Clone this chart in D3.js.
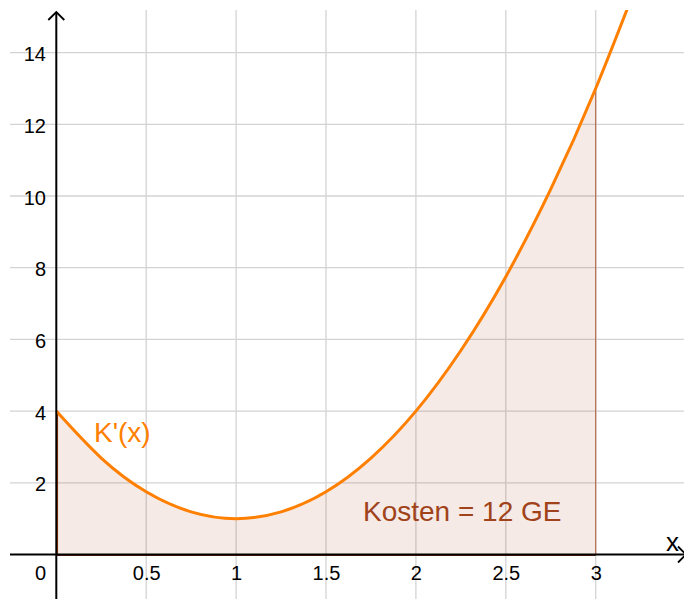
<!DOCTYPE html>
<html><head><meta charset="utf-8">
<script src="https://cdn.jsdelivr.net/npm/d3@7"></script>
<style>
html,body{margin:0;padding:0;background:#fff;}
svg{display:block;font-family:"Liberation Sans",Arial,sans-serif;}
</style></head>
<body><svg id="c" width="684" height="599"></svg>
<script>
// Data
const xs = [0, 0.25, 0.5, 0.75, 1, 1.25, 1.5, 1.75, 2, 2.25, 2.5, 2.75, 3, 3.25];
const ys = [4, 2.69, 1.75, 1.19, 1, 1.19, 1.75, 2.69, 4, 5.69, 7.75, 10.19, 13, 16.19];
const areaEnd = 3;
const xTicks = [0.5, 1, 1.5, 2, 2.5, 3];
const yTicks = [2, 4, 6, 8, 10, 12, 14];
const xGrid = [0.5, 1, 1.5, 2, 2.5, 3, 3.5];
const curveLabel = "K'(x)";
const areaLabel = "Kosten = 12 GE";

const W = 684, H = 599;
const svg = d3.select("#c");
const x = d3.scaleLinear().domain([-56.3/179.8, (W-56.3)/179.8]).range([0, W]);
const y = d3.scaleLinear().domain([554.5/35.85, (554.5-H)/35.85]).range([0, H]);

const pts = xs.map((v,i)=>({x:v, y:ys[i]}));
const areaPts = pts.filter(d=>d.x<=areaEnd);

// grid
const grid = svg.append("g").attr("stroke","#d3d3d3").attr("stroke-width",1.3);
grid.selectAll("line.v").data(xGrid).join("line")
  .attr("x1",d=>x(d)).attr("x2",d=>x(d)).attr("y1",10).attr("y2",H);
grid.selectAll("line.h").data(yTicks).join("line")
  .attr("x1",10).attr("x2",W).attr("y1",d=>y(d)).attr("y2",d=>y(d));

svg.append("clipPath").attr("id","clip").append("rect")
  .attr("x",10).attr("y",10).attr("width",W-10).attr("height",H-10);
const plot = svg.append("g").attr("clip-path","url(#clip)");

// area
const area = d3.area().x(d=>x(d.x)).y0(y(0)).y1(d=>y(d.y)).curve(d3.curveNatural);
plot.append("path").datum(areaPts).attr("d",area)
  .attr("fill","#993300").attr("fill-opacity",0.1);
// area borders
plot.append("line").attr("x1",x(0)+1).attr("x2",x(0)+1).attr("y1",y(0)).attr("y2",y(ys[0]))
  .attr("stroke","#993300").attr("stroke-width",1.5);
plot.append("line").attr("x1",x(areaEnd)).attr("x2",x(areaEnd)).attr("y1",y(0)).attr("y2",y(ys[xs.indexOf(areaEnd)]))
  .attr("stroke","#b36b4f").attr("stroke-width",1.2);

// axes
const ax = svg.append("g").attr("stroke","#000").attr("stroke-width",2).attr("fill","none");
ax.append("line").attr("x1",10).attr("x2",W).attr("y1",y(0)).attr("y2",y(0));
ax.append("line").attr("x1",x(0)).attr("x2",x(0)).attr("y1",12).attr("y2",H);
ax.append("path").attr("d",`M${x(0)-8},20 L${x(0)},12 L${x(0)+8},20`).attr("stroke-width",1.8);
ax.append("path").attr("d",`M${W-6},${y(0)-8} L${W+2},${y(0)} L${W-6},${y(0)+8}`).attr("stroke-width",1.8);
// brown bottom edge of area
plot.append("line").attr("x1",x(0)).attr("x2",x(areaEnd)).attr("y1",y(0)+1).attr("y2",y(0)+1)
  .attr("stroke","#6e2a10").attr("stroke-width",1.2);

// curve
const line = d3.line().x(d=>x(d.x)).y(d=>y(d.y)).curve(d3.curveNatural);
plot.append("path").datum(pts).attr("d",line)
  .attr("fill","none").attr("stroke","#ff7f00").attr("stroke-width",3);

// tick labels via axes
const xa = svg.append("g").attr("transform",`translate(0,${y(0)})`)
  .call(d3.axisBottom(x).tickValues(xTicks).tickSize(0).tickPadding(0).tickFormat(d=>String(d)));
xa.select(".domain").remove();
xa.selectAll("text").attr("y",25.5).attr("dy",0).attr("font-size",20)
  .attr("font-family","Liberation Sans, Arial, sans-serif").attr("fill","#000");
const ya = svg.append("g").attr("transform",`translate(46,0)`)
  .call(d3.axisLeft(y).tickValues(yTicks).tickSize(0).tickPadding(0).tickFormat(d=>String(d)));
ya.select(".domain").remove();
ya.selectAll("text").attr("x",0).attr("dy","0.4em").attr("font-size",20)
  .attr("font-family","Liberation Sans, Arial, sans-serif").attr("fill","#000");
svg.append("text").attr("x",46).attr("y",y(0)+25.5).attr("text-anchor","end")
  .attr("font-size",20).attr("fill","#000").text("0");
svg.append("text").attr("x",666).attr("y",y(0)-4)
  .attr("font-size",26).attr("fill","#000").text("x");

// labels
svg.append("text").attr("x",94).attr("y",442).attr("font-size",28)
  .attr("fill","#ff7f00").text(curveLabel);
svg.append("text").attr("x",363).attr("y",521).attr("font-size",28)
  .attr("fill","#a0421a").text(areaLabel);
</script></body></html>
